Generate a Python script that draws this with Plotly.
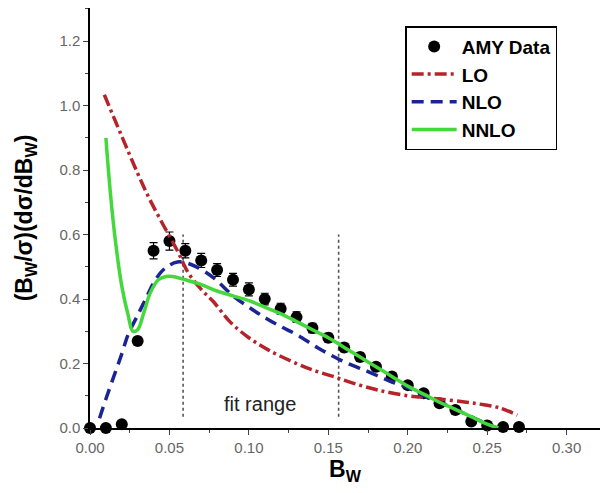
import plotly.graph_objects as go

# AMY data
data_x = [0.00, 0.01, 0.02, 0.03, 0.04, 0.05, 0.06, 0.07, 0.08, 0.09, 0.10, 0.11, 0.12, 0.13,
          0.14, 0.15, 0.16, 0.17, 0.18, 0.19, 0.20, 0.21, 0.22, 0.23, 0.24, 0.25, 0.26, 0.27]
data_y = [0.000, 0.000, 0.012, 0.270, 0.550, 0.580, 0.550, 0.520, 0.490, 0.460, 0.430, 0.400, 0.370, 0.344,
          0.310, 0.280, 0.250, 0.220, 0.190, 0.160, 0.133, 0.108, 0.077, 0.056, 0.020, 0.008, 0.003, 0.003]
data_err = [0.0, 0.0, 0.0, 0.0, 0.025, 0.028, 0.022, 0.022, 0.02, 0.02, 0.02, 0.018, 0.017, 0.016,
            0.015, 0.014, 0.013, 0.012, 0.012, 0.011, 0.01, 0.01, 0.009, 0.008, 0.0, 0.0, 0.0, 0.0]

# LO
lo_x = [0.009, 0.02, 0.03, 0.037, 0.045, 0.055, 0.062, 0.07, 0.078, 0.088, 0.10, 0.113, 0.13, 0.14,
        0.153, 0.165, 0.181, 0.20, 0.208, 0.22, 0.237, 0.248, 0.258, 0.269]
lo_y = [1.034, 0.905, 0.79, 0.715, 0.64, 0.55, 0.48, 0.43, 0.39, 0.33, 0.28, 0.24, 0.20, 0.18,
        0.16, 0.14, 0.118, 0.10, 0.096, 0.09, 0.08, 0.072, 0.062, 0.04]

# NLO
nlo_x = [0.006, 0.010, 0.015, 0.020, 0.024, 0.030, 0.035, 0.040, 0.045, 0.050, 0.055, 0.060, 0.067,
         0.078, 0.090, 0.100, 0.111, 0.120, 0.130, 0.143, 0.158, 0.175, 0.189, 0.200, 0.210, 0.220,
         0.230, 0.240, 0.250, 0.256]
nlo_y = [0.03, 0.09, 0.16, 0.23, 0.29, 0.35, 0.40, 0.45, 0.485, 0.505, 0.515, 0.513, 0.50,
         0.465, 0.41, 0.375, 0.34, 0.315, 0.29, 0.25, 0.21, 0.175, 0.145, 0.125, 0.10, 0.08,
         0.058, 0.035, 0.012, 0.0]

# NNLO
nnlo_x = [0.010, 0.013, 0.016, 0.020, 0.024, 0.027, 0.030, 0.034, 0.038, 0.043, 0.048, 0.052, 0.060,
          0.070, 0.080, 0.090, 0.100, 0.110, 0.120, 0.130, 0.140, 0.150, 0.160, 0.170, 0.180, 0.190,
          0.200, 0.210, 0.220, 0.230, 0.240, 0.250, 0.257]
nnlo_y = [0.90, 0.72, 0.58, 0.44, 0.35, 0.30, 0.305, 0.36, 0.42, 0.46, 0.47, 0.47, 0.46,
          0.445, 0.425, 0.41, 0.395, 0.375, 0.355, 0.33, 0.305, 0.28, 0.25, 0.22, 0.19, 0.16,
          0.13, 0.105, 0.08, 0.058, 0.035, 0.012, 0.0]

fit_range = [0.0586, 0.1565]
fit_top = 0.60
fit_bottom = 0.035

tick_font = dict(family="Liberation Sans, Arial", size=15, color="#666666")

fig = go.Figure()

for xv in fit_range:
    fig.add_trace(go.Scatter(x=[xv, xv], y=[fit_bottom, fit_top], mode="lines",
                             line=dict(color="#555555", width=1.6, dash="3px,3px"),
                             showlegend=False, hoverinfo="skip"))

fig.add_trace(go.Scatter(x=data_x, y=data_y, mode="markers", name="<b>AMY Data</b>",
                         marker=dict(color="black", size=12),
                         error_y=dict(type="data", array=data_err, color="black",
                                      thickness=1.2, width=4),
                         cliponaxis=False))
fig.add_trace(go.Scatter(x=lo_x, y=lo_y, mode="lines", name="<b>LO</b>", line_shape="spline",
                         line=dict(color="#b5232b", width=3.5, dash="12px,4px,3px,4px")))
fig.add_trace(go.Scatter(x=nlo_x, y=nlo_y, mode="lines", name="<b>NLO</b>", line_shape="spline",
                         line=dict(color="#1c2495", width=3.5, dash="12px,7px")))
fig.add_trace(go.Scatter(x=nnlo_x, y=nnlo_y, mode="lines", name="<b>NNLO</b>", line_shape="spline",
                         line=dict(color="#44d83c", width=3.5)))

fig.add_annotation(x=0.107, y=0.075, text="fit range", showarrow=False,
                   font=dict(family="Liberation Sans, Arial", size=20, color="#222222"))

fig.update_layout(
    width=608, height=493,
    margin=dict(l=82, r=16, t=0, b=73),
    plot_bgcolor="white", paper_bgcolor="white",
    font=dict(family="Liberation Sans, Arial"),
    legend=dict(x=0.618, y=0.957, xanchor="left", yanchor="top",
                bordercolor="black", borderwidth=1.5, bgcolor="white",
                font=dict(family="Liberation Sans, Arial", size=19, color="black"),
                tracegroupgap=0, itemwidth=45),
    showlegend=True,
)
fig.update_xaxes(range=[0, 0.321], dtick=0.05, tickformat=".2f", ticks="outside", ticklen=5,
                 tickwidth=1.3, showline=True, linecolor="black", linewidth=1.5, mirror=True,
                 showgrid=False, zeroline=False, tickfont=tick_font, automargin=False,
                 minor=dict(dtick=0.025, ticks="outside", ticklen=3, tickwidth=1.3, showgrid=False),
                 title=dict(text="<b>B<sub>W</sub></b>", font=dict(size=23, color="black"), standoff=4))
fig.update_yaxes(range=[0, 1.303], dtick=0.2, tickformat=".1f", ticks="outside", ticklen=5,
                 tickwidth=1.3, showline=True, linecolor="black", linewidth=1.5, mirror=True,
                 showgrid=False, zeroline=False, tickfont=tick_font, automargin=False,
                 minor=dict(dtick=0.1, ticks="outside", ticklen=3, tickwidth=1.3, showgrid=False),
                 title=dict(text="<b>(B<sub>W</sub>/σ)(dσ/dB<sub>W</sub>)</b>",
                            font=dict(size=23, color="black"), standoff=20))

fig.write_html("out.html")
